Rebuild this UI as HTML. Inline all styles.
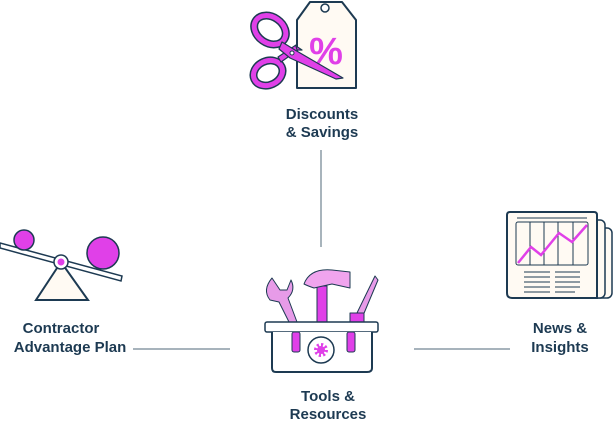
<!DOCTYPE html>
<html><head><meta charset="utf-8"><style>
html,body{margin:0;padding:0;background:#fff;width:614px;height:424px;overflow:hidden}
svg{display:block}
text{font-family:"Liberation Sans",sans-serif;font-weight:bold;font-size:15px;fill:#1d3a52;text-anchor:middle}
</style></head><body>
<svg width="614" height="424" viewBox="0 0 614 424" xmlns="http://www.w3.org/2000/svg">
<g stroke="#8a9aa6" stroke-width="1.5">
<line x1="321" y1="150" x2="321" y2="247"/>
<line x1="133" y1="349" x2="230" y2="349"/>
<line x1="414" y1="349" x2="510" y2="349"/>
</g>
<!-- tag -->
<path d="M310,2 L342,2 L356,20 L356,88 L297,88 L297,20 Z" fill="#fffaf3" stroke="#1d3a52" stroke-width="2" stroke-linejoin="round"/>
<circle cx="325" cy="8" r="4" fill="#fff" stroke="#1d3a52" stroke-width="1.5"/>
<text x="326" y="64" style="font-size:38px;fill:#e040e8">%</text>
<!-- scissors -->
<g fill="none">
<ellipse cx="270" cy="30" rx="17" ry="13" transform="rotate(35 270 30)" stroke="#1d3a52" stroke-width="8"/>
<ellipse cx="270" cy="30" rx="17" ry="13" transform="rotate(35 270 30)" stroke="#e040e8" stroke-width="5"/>
<ellipse cx="268" cy="73" rx="15" ry="12" transform="rotate(-25 268 73)" stroke="#1d3a52" stroke-width="8"/>
<ellipse cx="268" cy="73" rx="15" ry="12" transform="rotate(-25 268 73)" stroke="#e040e8" stroke-width="5"/>
</g>
<g stroke="#1d3a52" stroke-width="1.2" fill="#e040e8" stroke-linejoin="round">
<path d="M281,62 L298,50 L296,45 L278,57 Z"/>
<path d="M282,42 L295,50 L343,78 L336,79 L290,58 L279,49 Z"/>
<path d="M296,46 L297,50 L302,50 Z"/>
</g>
<circle cx="292" cy="53" r="2" fill="#fff" stroke="#1d3a52"/>
<text x="322" y="119">Discounts</text>
<text x="322" y="137">&amp; Savings</text>
<!-- seesaw -->
<path d="M61,262 L36,300 L88,300 Z" fill="#fffaf3" stroke="#1d3a52" stroke-width="2"/>
<path d="M0,243 L122,276 L121,281 L0,248 Z" fill="#fff" stroke="#1d3a52" stroke-width="1.5"/>
<circle cx="24" cy="240" r="10" fill="#e040e8" stroke="#1d3a52" stroke-width="1.5"/>
<circle cx="103" cy="253" r="16" fill="#e040e8" stroke="#1d3a52" stroke-width="1.5"/>
<circle cx="61" cy="262" r="7" fill="#fff" stroke="#1d3a52" stroke-width="1.5"/>
<circle cx="61" cy="262" r="3.5" fill="#e040e8"/>
<text x="61" y="333">Contractor</text>
<text x="70" y="352">Advantage Plan</text>
<!-- toolbox tools -->
<g stroke="#1d3a52" stroke-width="1" stroke-linejoin="round">
<path d="M272,278 Q262,290 270,300 L279,302 L289,322 L297,322 L288,298 Q296,290 291,280 L287,290 L280,290 Z" fill="#e79be8"/>
<rect x="317" y="286" width="10" height="36" fill="#e040e8"/>
<path d="M304,284 Q310,268 332,270 L350,272 L350,288 L332,284 L314,288 Q308,286 304,284 Z" fill="#f0a4ee"/>
<path d="M375,276 L378,280 L362,318 L356,315 Z" fill="#e79be8"/>
<rect x="350" y="313" width="14" height="9" fill="#e040e8"/>
</g>
<rect x="265" y="322" width="113" height="10" rx="2" fill="#fff" stroke="#1d3a52" stroke-width="1.5"/>
<path d="M272,332 L272,368 Q272,372 276,372 L367,372 Q372,372 372,368 L372,332" fill="#fff" stroke="#1d3a52" stroke-width="2"/>
<rect x="292" y="332" width="8" height="20" rx="2" fill="#e040e8" stroke="#1d3a52"/>
<rect x="347" y="332" width="8" height="20" rx="2" fill="#e040e8" stroke="#1d3a52"/>
<circle cx="321" cy="350" r="13" fill="#fff" stroke="#1d3a52" stroke-width="1.5"/>
<circle cx="321" cy="350" r="5" fill="none" stroke="#e040e8" stroke-width="4" stroke-dasharray="2 1.9"/>
<circle cx="321" cy="350" r="4" fill="#e040e8"/>
<text x="328" y="401">Tools &amp;</text>
<text x="328" y="419">Resources</text>
<!-- newspaper -->
<rect x="590" y="228" width="22" height="70" rx="5" fill="#fffaf3" stroke="#1d3a52" stroke-width="1.5"/>
<rect x="583" y="220" width="22" height="78" rx="5" fill="#fffaf3" stroke="#1d3a52" stroke-width="1.5"/>
<path d="M507,215 Q507,212 510,212 L594,212 Q597,212 597,215 L597,298 L512,298 Q507,298 507,293 Z" fill="#fffaf3" stroke="#1d3a52" stroke-width="2"/>
<g stroke="#1d3a52" stroke-width="1">
<line x1="517" y1="218" x2="587" y2="218"/>
<rect x="516" y="222" width="72" height="43" rx="2" fill="none"/>
<line x1="530" y1="222" x2="530" y2="265"/><line x1="544" y1="222" x2="544" y2="265"/>
<line x1="558" y1="222" x2="558" y2="265"/><line x1="573" y1="222" x2="573" y2="265"/>
<line x1="524" y1="272" x2="550" y2="272"/><line x1="555" y1="272" x2="580" y2="272"/>
<line x1="524" y1="277" x2="550" y2="277"/><line x1="555" y1="277" x2="580" y2="277"/>
<line x1="524" y1="282" x2="550" y2="282"/><line x1="555" y1="282" x2="580" y2="282"/>
<line x1="524" y1="287" x2="550" y2="287"/><line x1="555" y1="287" x2="580" y2="287"/>
<line x1="524" y1="292" x2="550" y2="292"/><line x1="555" y1="292" x2="575" y2="292"/>
</g>
<polyline points="518,263 531,247 541,255 559,233 572,242 587,225" fill="none" stroke="#e040e8" stroke-width="2.5"/>
<text x="560" y="333">News &amp;</text>
<text x="560" y="352">Insights</text>
</svg>
</body></html>
